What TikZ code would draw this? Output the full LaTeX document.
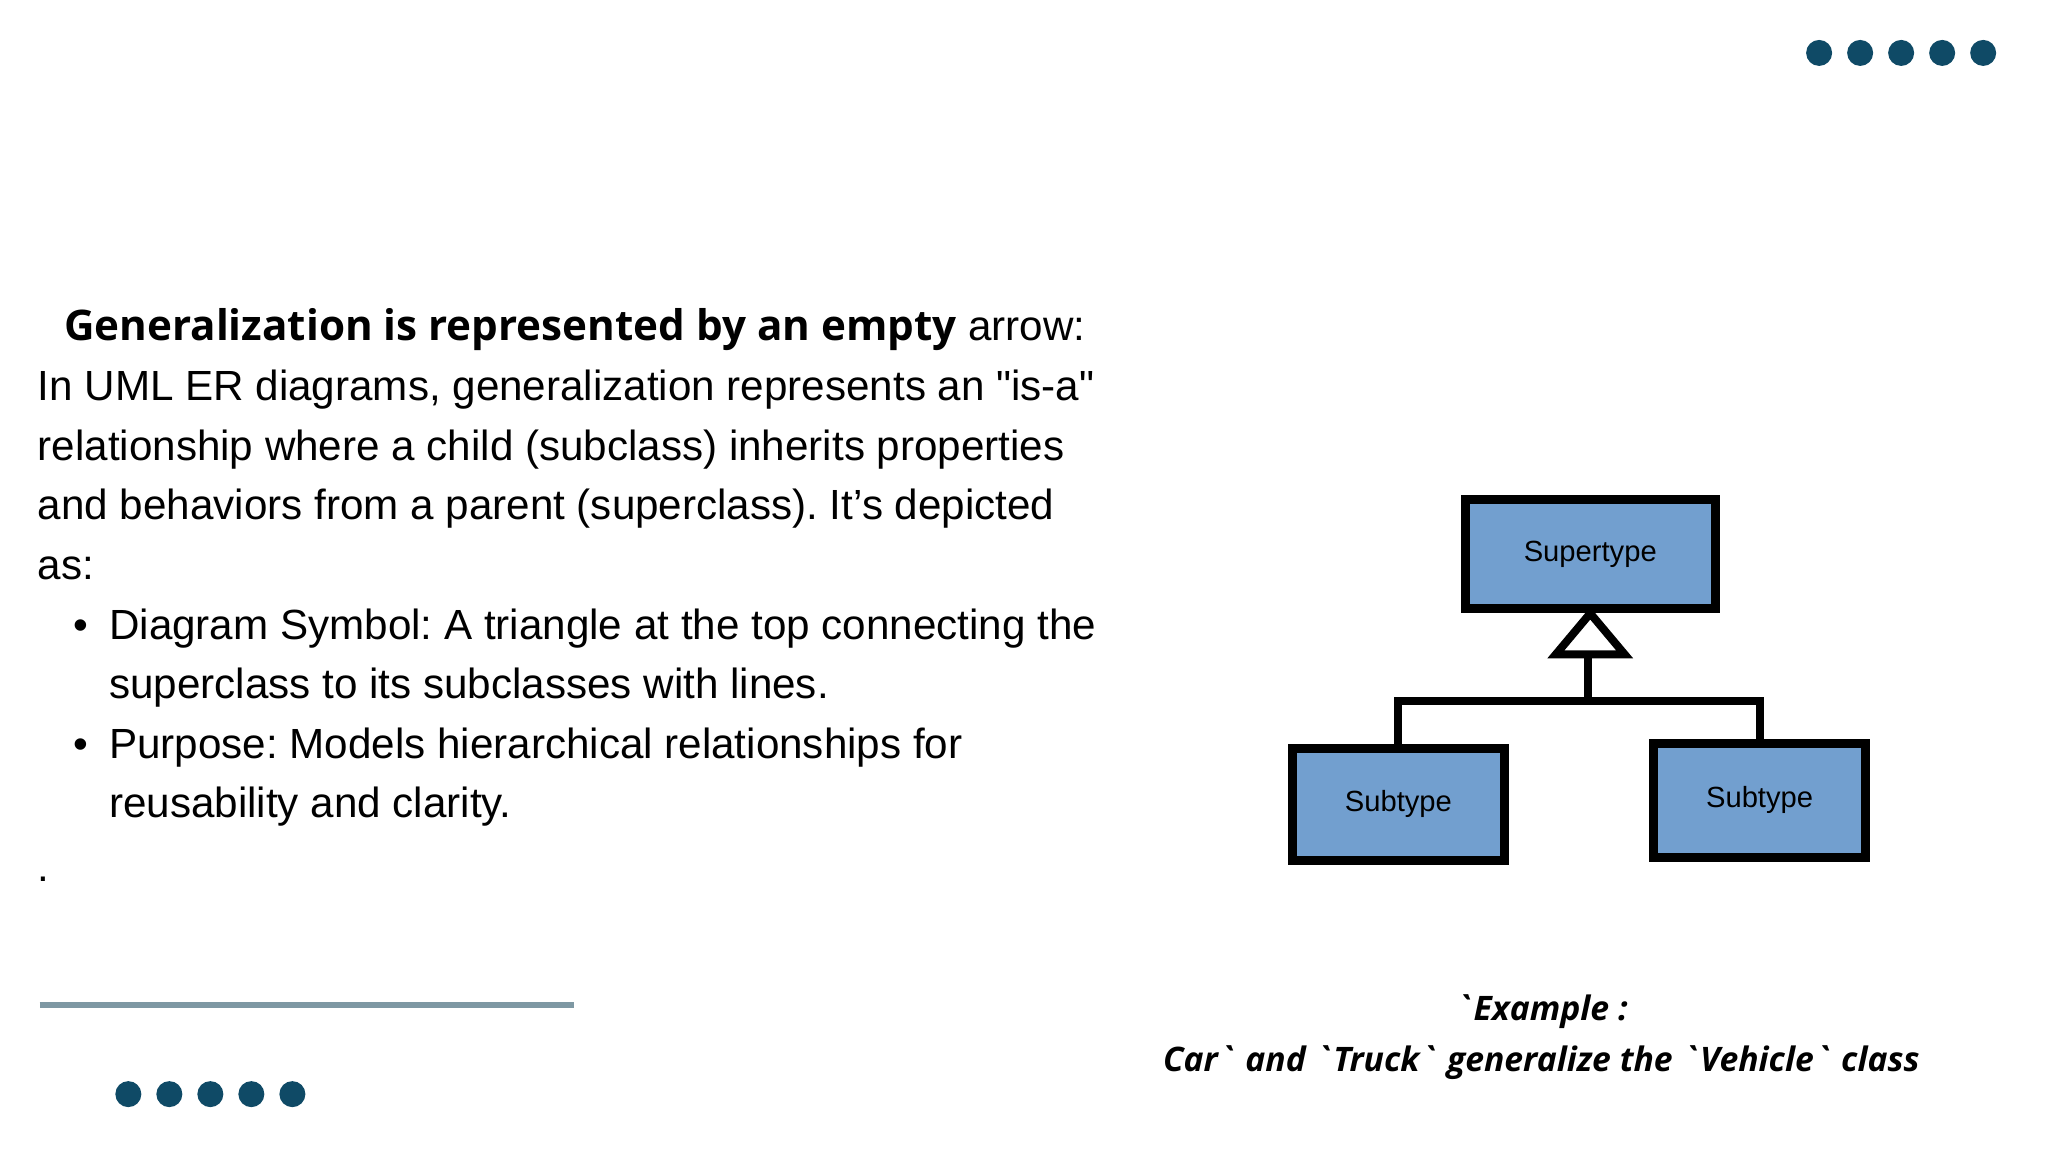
\documentclass[tikz,border=0pt]{standalone}
\usepackage{fontspec}
\setmainfont{Liberation Sans}
\newfontfamily\headfont{Open Sans}
\usepackage{tikz}
\frenchspacing

\definecolor{dotblue}{HTML}{0F4A66}
\definecolor{rulegray}{HTML}{7E98A3}
\definecolor{boxblue}{HTML}{729FCF}

\tikzset{
  dot/.style={circle,fill=dotblue,inner sep=0pt,minimum size=0.26cm},
  line/.style={anchor=base west,inner sep=0pt,font=\fontsize{12pt}{14pt}\selectfont},
  entity/.style={draw=black,line width=0.09cm,fill=boxblue,inner sep=0pt,
    font=\fontsize{8.3pt}{9pt}\selectfont},
  link/.style={draw=black,line width=0.08cm},
  caption/.style={inner sep=0pt,font=\headfont\bfseries\itshape\fontsize{9.6pt}{12pt}\selectfont}
}

\begin{document}
\begin{tikzpicture}[x=0.013231cm,y=-0.013231cm]
\useasboundingbox (0,0) rectangle (1548,870);

% dots
\foreach \i in {0,...,4}{
  \node[dot] (top\i) at (1375+31*\i,40) {};
  \node[dot] (bot\i) at (97+31*\i,827) {};
}
\draw[rulegray,line width=0.06cm] (30,760) -- (434,760);

% text
\node[line] (head) at (48,257) {{\headfont\bfseries\fontsize{12pt}{14pt}\selectfont Generalization is represented by an empty} arrow:};
\node[line] (t1) at (28,303) {In UML ER diagrams, generalization represents an \textquotedbl is-a\textquotedbl};
\node[line] (t2) at (28,348) {relationship where a child (subclass) inherits properties};
\node[line] (t3) at (28,393) {and behaviors from a parent (superclass). It’s depicted};
\node[line] (t4) at (28,438) {as:};
\node[line] (b1) at (55,483) {\textbullet};
\node[line] (t5) at (82,483) {Diagram Symbol: A triangle at the top connecting the};
\node[line] (t6) at (82,528) {superclass to its subclasses with lines.};
\node[line] (b2) at (55,573) {\textbullet};
\node[line] (t7) at (82,573) {Purpose: Models hierarchical relationships for};
\node[line] (t8) at (82,618) {reusability and clarity.};
\node[line] (t9) at (28,666) {.};

% diagram
\node[entity,minimum width=2.5cm,minimum height=1.09cm] (super) at (1202,419) {Supertype};
\node[entity,minimum width=2.12cm,minimum height=1.12cm] (subA) at (1057,608) {Subtype};
\node[entity,minimum width=2.12cm,minimum height=1.14cm] (subB) at (1330,605) {Subtype};
\coordinate (tri) at (1200,494);
\coordinate (bar) at (1200,530);
\draw[link,line join=miter] (super.south) -- ++(-26,31) -- ++(52,0) -- cycle;
\draw[link] (tri) -- (bar);
\draw[link] (subA.north) |- (bar) -| (subB.north);

% caption
\node[caption] (cap1) at (1165,765) {`Example :};
\node[caption] (cap2) at (1165,803) {Car` and `Truck` generalize the `Vehicle` class};
\end{tikzpicture}
\end{document}
